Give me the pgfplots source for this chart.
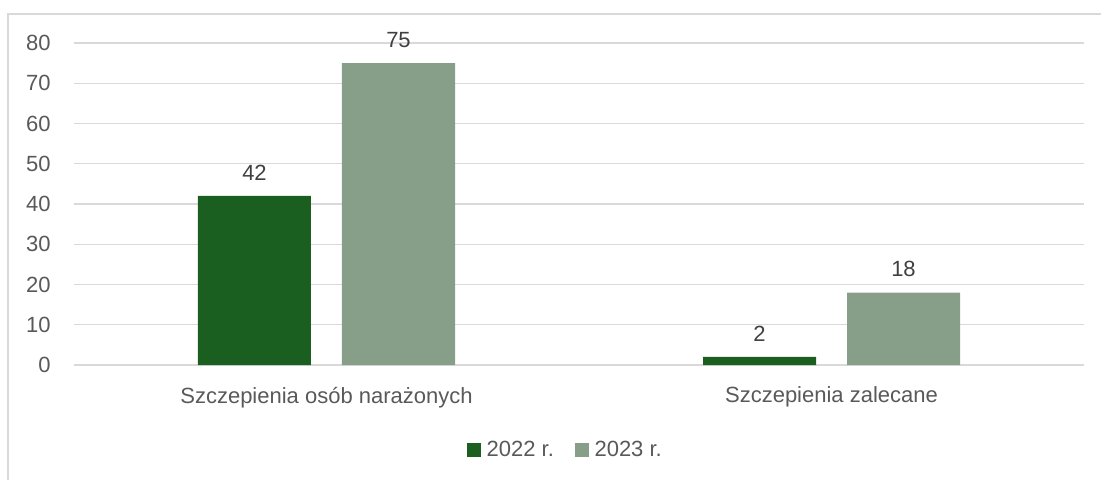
\documentclass[border=0pt]{standalone}
\usepackage{pgfplots}
\pgfplotsset{compat=1.18}
\usepackage{fontspec}
\setmainfont{Liberation Sans}
\definecolor{gA}{HTML}{1A5E20}
\definecolor{gB}{HTML}{879F88}
\definecolor{txt}{HTML}{595959}
\definecolor{txtd}{HTML}{404040}
\definecolor{grd}{HTML}{D9D9D9}
\begin{document}
\begin{tikzpicture}[x=0.75pt,y=0.75pt]
\useasboundingbox (0,0) rectangle (1101,480);
\draw[grd, line width=1.5pt] (8,0) -- (8,466) -- (1101,466);
\begin{axis}[
  at={(55.5pt,86.25pt)}, anchor=south west,
  scale only axis, width=757.5pt, height=241.5pt,
  xmin=-0.5, xmax=1.5, ymin=0, ymax=80,
  ytick={0,10,...,80},
  xtick={0,1},
  xticklabels={Szczepienia osób narażonych, Szczepienia zalecane},
  ymajorgrids, grid style={grd, line width=1.1pt},
  axis line style={draw=none},
  major tick length=0pt,
  /pgf/number format/assume math mode=true,
  tick label style={font=\fontsize{16.5}{19}\selectfont, color=txt},
  yticklabel style={xshift=-14pt},
  xticklabel style={yshift=-13pt},
  ybar=23.25pt, bar width=84.75pt,
  nodes near coords,
  every node near coord/.append style={font=\fontsize{16.5}{19}\selectfont, color=txtd, yshift=8pt},
  legend style={at={(0.487,-0.264)}, anchor=center, draw=none, fill=none,
    legend columns=2, font=\fontsize{16.5}{19}\selectfont, text=txt,
    /tikz/every even column/.append style={column sep=14pt}},
  legend image code/.code={\fill[#1] (0pt,-5.25pt) rectangle (10.5pt,5.25pt);},
  legend cell align=left,
]
\addplot[fill=gA, draw=none] coordinates {(0,42) (1,2)};
\addplot[fill=gB, draw=none] coordinates {(0,75) (1,18)};
\legend{\hspace{2pt}2022 r., \hspace{2pt}2023 r.}
\end{axis}
\end{tikzpicture}
\end{document}
